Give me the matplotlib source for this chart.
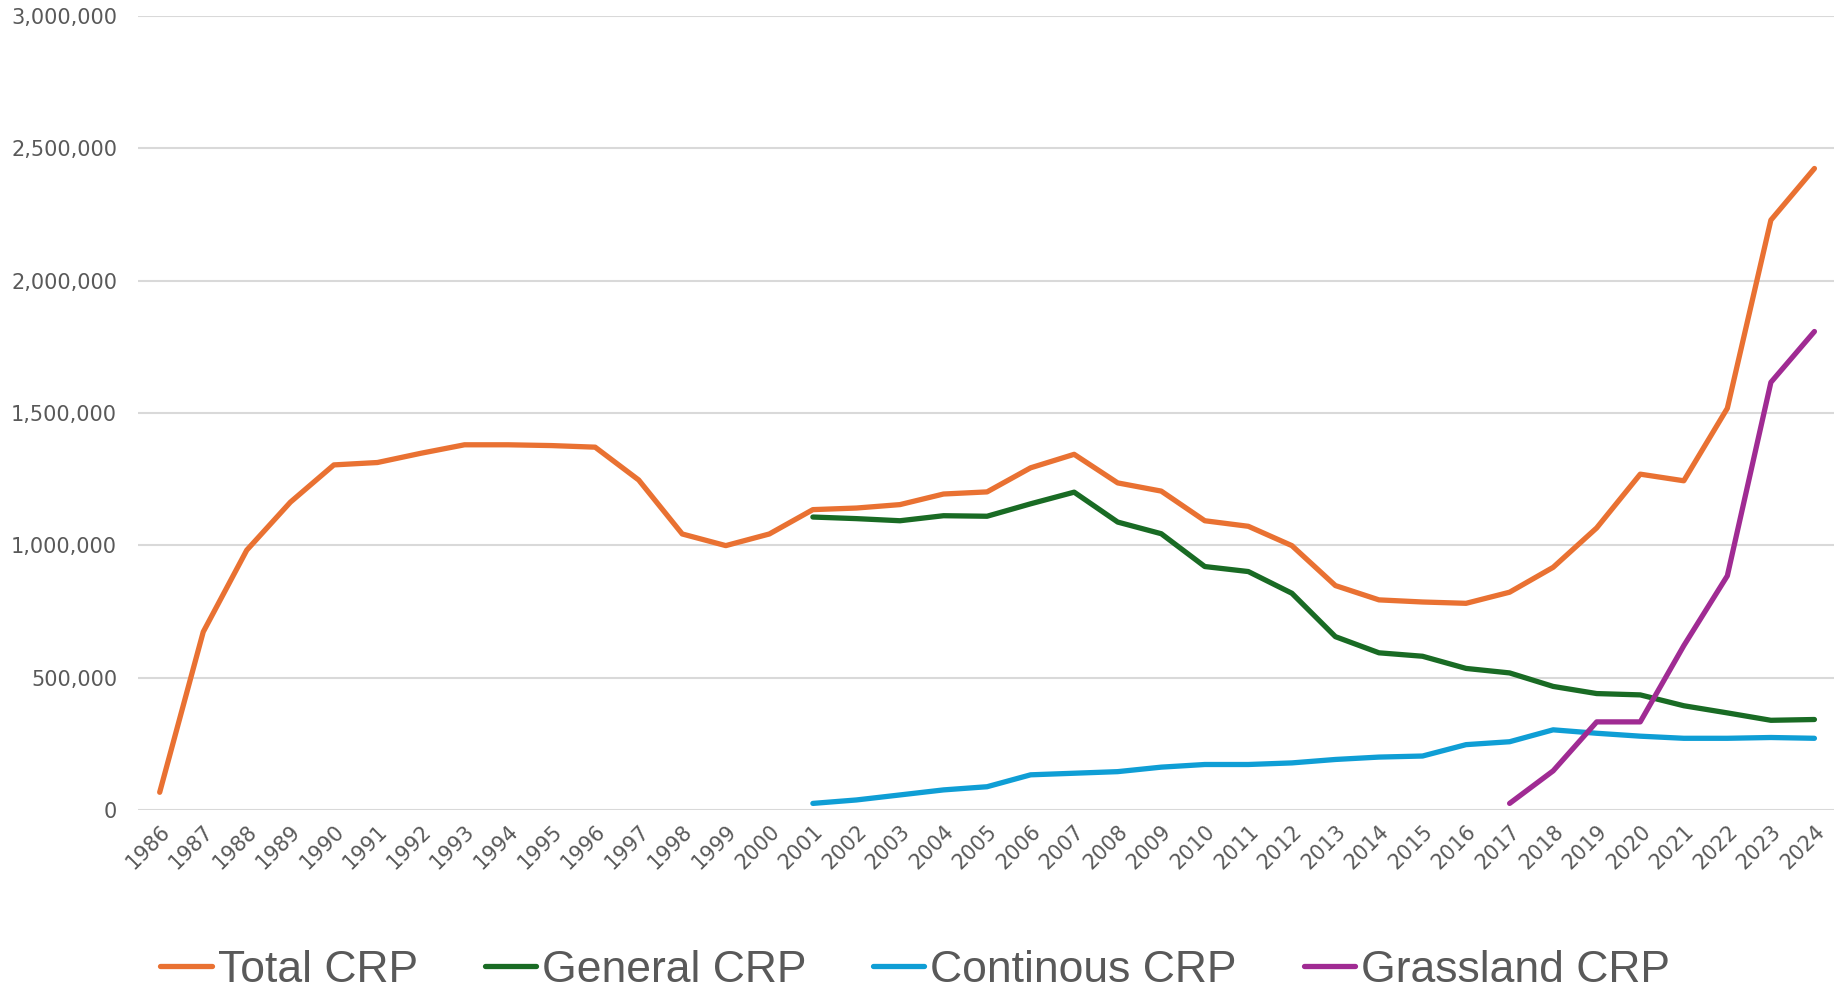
import matplotlib.pyplot as plt
import numpy as np

years = list(range(1986, 2025))

total_crp = [67000, 673000, 982000, 1163000, 1304000, 1313000, 1348000, 1380000, 1380000,
             1377000, 1371000, 1247000, 1043000, 999000, 1043000, 1135000, 1141000, 1154000,
             1194000, 1202000, 1293000, 1344000, 1236000, 1205000, 1093000, 1072000, 999000,
             848000, 794000, 786000, 781000, 823000, 917000, 1066000, 1269000, 1244000,
             1518000, 2229000, 2424000]

general_years = list(range(2001, 2025))
general_crp = [1107000, 1101000, 1093000, 1112000, 1110000, 1157000, 1201000, 1088000,
               1044000, 920000, 901000, 819000, 655000, 594000, 581000, 535000, 518000,
               467000, 440000, 435000, 394000, 367000, 339000, 342000]

continous_years = list(range(2001, 2025))
continous_crp = [25000, 38000, 57000, 76000, 88000, 133000, 139000, 145000, 162000, 172000,
                 172000, 178000, 191000, 200000, 204000, 247000, 258000, 303000, 290000,
                 279000, 271000, 271000, 274000, 271000]

grassland_years = list(range(2017, 2025))
grassland_crp = [25000, 148000, 333000, 333000, 621000, 885000, 1616000, 1808000]

orange = '#E97132'
green = '#196B24'
blue = '#0F9ED5'
purple = '#A02B93'
grey = '#595959'

fig = plt.figure(figsize=(18.34, 9.9), dpi=100)
ax = fig.add_axes([0.0752, 0.1818, 0.926, 0.802])

idx = {y: i for i, y in enumerate(years)}
lw = 3.8

ax.plot([idx[y] for y in years], total_crp, color=orange, lw=lw, solid_capstyle='round',
        solid_joinstyle='round', label='Total CRP')
ax.plot([idx[y] for y in general_years], general_crp, color=green, lw=lw, solid_capstyle='round',
        solid_joinstyle='round', label='General CRP')
ax.plot([idx[y] for y in continous_years], continous_crp, color=blue, lw=lw, solid_capstyle='round',
        solid_joinstyle='round', label='Continous CRP')
ax.plot([idx[y] for y in grassland_years], grassland_crp, color=purple, lw=lw, solid_capstyle='round',
        solid_joinstyle='round', label='Grassland CRP')

ax.set_xlim(-0.5, len(years) - 0.5)
ax.set_ylim(0, 3000000)
ax.set_yticks(np.arange(0, 3000001, 500000))
ax.set_yticklabels(['{:,}'.format(v) for v in range(0, 3000001, 500000)])
ax.set_xticks(range(len(years)))
ax.set_xticklabels([str(y) for y in years], rotation=45, ha='right', va='top',
                   rotation_mode='anchor')

ax.grid(axis='y', color='#D9D9D9', lw=1.5)
ax.set_axisbelow(True)
for s in ax.spines.values():
    s.set_visible(False)
ax.tick_params(axis='both', length=0, colors=grey, labelsize=15)
ax.tick_params(axis='y', pad=15)
ax.tick_params(axis='x', pad=8)

fig.legend(loc='center', bbox_to_anchor=(0.499, 0.02), ncol=4, frameon=False,
           prop={'family': ['Liberation Sans', 'DejaVu Sans'], 'size': 32},
           labelcolor=grey, handlelength=1.15, handletextpad=0.14, columnspacing=1.5)

fig.savefig('out.png', dpi=100)
